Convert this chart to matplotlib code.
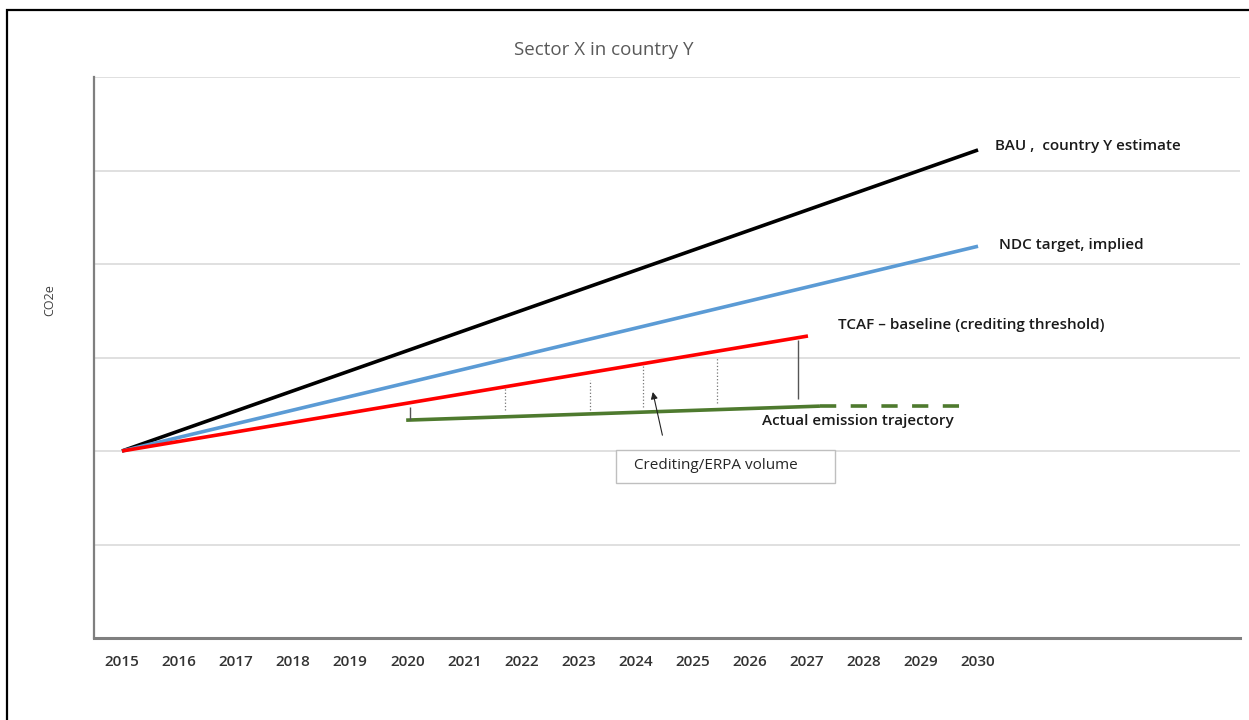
import matplotlib.pyplot as plt
import matplotlib.patches as mpatches

plt.rcParams['font.family'] = ['Open Sans', 'DejaVu Sans']

years = list(range(2015, 2031))
bau_x = [2015, 2030]
bau_y = [2.0, 5.22]
ndc_x = [2015, 2030]
ndc_y = [2.0, 4.19]
tcaf_x = [2015, 2027.02]
tcaf_y = [2.0, 3.23]
actual_x = [2019.98, 2027.23]
actual_y = [2.33, 2.48]
actual_dash_x = [2027.23, 2029.77]
actual_dash_y = [2.48, 2.48]

# crediting volume markers
cred_x = [2020.05, 2021.71, 2023.2, 2024.13, 2025.43, 2026.85]
cred_lo = [2.33, 2.44, 2.44, 2.47, 2.51, 2.56]
cred_hi = [2.47, 2.67, 2.76, 2.92, 2.99, 3.19]
cred_style = ['solid', 'dotted', 'dotted', 'dotted', 'dotted', 'solid']

fig = plt.figure(figsize=(12.49, 7.2), dpi=100)
ax = fig.add_axes([94 / 1249, 82 / 720, 1146 / 1249, 561 / 720])

# page border
fig.patches.append(mpatches.Rectangle((7 / 1249, -0.2), 1.2, 1.2 - 10 / 720,
                                      transform=fig.transFigure, fill=False,
                                      edgecolor='black', linewidth=1.6))

ax.set_xlim(2014.51, 2034.59)
ax.set_ylim(0, 6)
ax.set_yticks(range(0, 7))
ax.set_yticklabels([])
ax.set_xticks(years)
ax.set_xticklabels([str(y) for y in years], fontsize=11, color='#333333',
                   fontweight='semibold')
ax.tick_params(axis='both', length=0)
ax.tick_params(axis='x', pad=12)
ax.grid(axis='y', color='#e0e0e0', linewidth=1.4)
ax.set_axisbelow(True)
for s in ['top', 'right']:
    ax.spines[s].set_visible(False)
ax.spines['left'].set_color('#7f7f7f')
ax.spines['left'].set_linewidth(1.6)
ax.spines['bottom'].set_color('#7f7f7f')
ax.spines['bottom'].set_linewidth(2.2)

lw = 2.6
ax.plot(bau_x, bau_y, color='black', linewidth=lw, solid_capstyle='butt')
ax.plot(ndc_x, ndc_y, color='#5b9bd5', linewidth=lw, solid_capstyle='butt')
ax.plot(tcaf_x, tcaf_y, color='#ff0000', linewidth=lw, solid_capstyle='butt')
ax.plot(actual_x, actual_y, color='#4e7a2e', linewidth=lw, solid_capstyle='butt')
ax.plot(actual_dash_x, actual_dash_y, color='#4e7a2e', linewidth=lw,
        dashes=(4.5, 4), solid_capstyle='butt')

for x, lo, hi, st in zip(cred_x, cred_lo, cred_hi, cred_style):
    ax.vlines(x, lo, hi, colors='#555555' if st == 'solid' else '#777777',
              linestyles=st, linewidth=1.0 if st == 'solid' else 0.9)

ax.annotate('', xy=(2024.29, 2.66), xytext=(2024.48, 2.14),
            arrowprops=dict(arrowstyle='-|>', color='#222222', lw=0.8,
                            mutation_scale=10))

box = mpatches.Rectangle((2023.66, 1.66), 3.83, 0.35, facecolor='white',
                         edgecolor='#bfbfbf', linewidth=1.0, zorder=3)
ax.add_patch(box)
ax.text(2025.4, 1.84, 'Crediting/ERPA volume', fontsize=11, color='#262626',
        ha='center', va='center', zorder=4)

ax.text(2030.3, 5.26, 'BAU ,  country Y estimate', fontsize=11, color='#1a1a1a',
        ha='left', va='center', fontweight='semibold')
ax.text(2030.37, 4.2, 'NDC target, implied', fontsize=11, color='#1a1a1a',
        ha='left', va='center', fontweight='semibold')
ax.text(2027.55, 3.35, 'TCAF \u2013 baseline (crediting threshold)', fontsize=11,
        color='#1a1a1a', ha='left', va='center', fontweight='semibold')
ax.text(2026.21, 2.32, 'Actual emission trajectory', fontsize=11,
        color='#1a1a1a', ha='left', va='center', fontweight='semibold')

fig.text(604 / 1249, 1 - 50 / 720, 'Sector X in country Y', fontsize=13.5,
         color='#595959', ha='center', va='center')
fig.text(50 / 1249, 1 - 300 / 720, 'CO2e', fontsize=9, color='#404040',
         rotation=90, ha='center', va='center')

fig.savefig('out.png', dpi=100)
